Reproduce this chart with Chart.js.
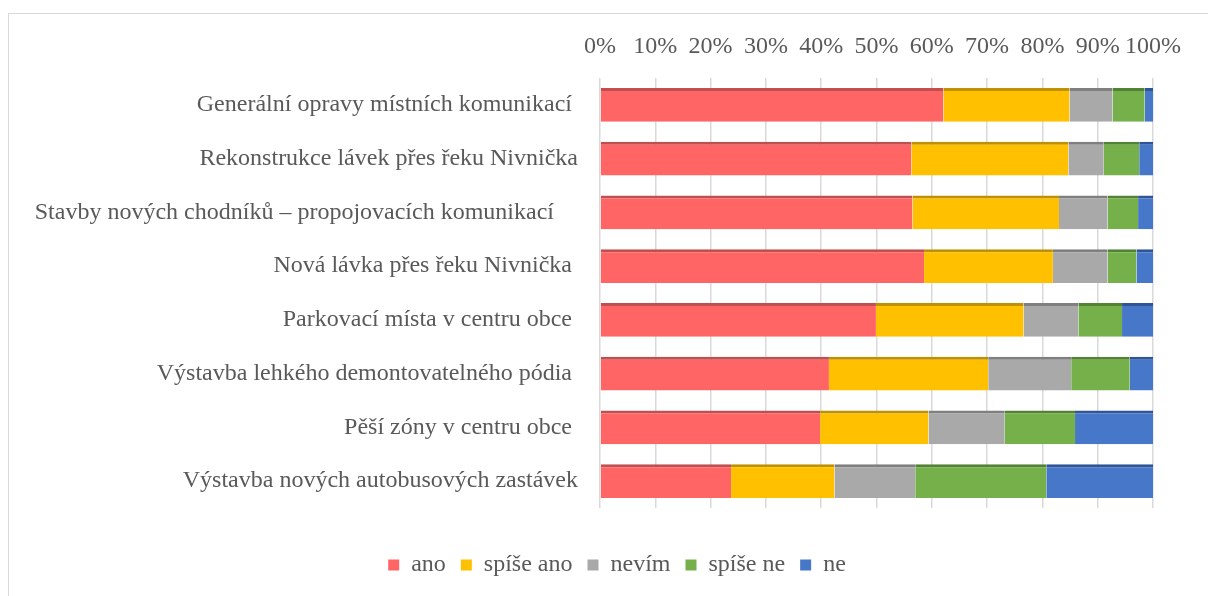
<!DOCTYPE html>
<html>
<head>
<meta charset="utf-8">
<script src="https://cdn.jsdelivr.net/npm/chart.js@4.4.0/dist/chart.umd.min.js"></script>
<style>
body{margin:0;background:#fff;}
</style>
</head>
<body>
<canvas id="bars" width="1208" height="596"></canvas>
<script>
// categories (trailing spaces as in the original labels)
var categories = [
  'Generální opravy místních komunikací ',
  'Rekonstrukce lávek přes řeku Nivnička',
  'Stavby nových chodníků – propojovacích komunikací    ',
  'Nová lávka přes řeku Nivnička ',
  'Parkovací místa v centru obce ',
  'Výstavba lehkého demontovatelného pódia ',
  'Pěší zóny v centru obce ',
  'Výstavba nových autobusových zastávek'
];
var seriesNames = ['ano', 'spíše ano', 'nevím', 'spíše ne', 'ne'];
// shares in %
var ano      = [62.1, 56.3, 56.5, 58.6, 49.9, 41.4, 39.8, 23.7];
var spiseAno = [22.8, 28.4, 26.5, 23.3, 26.7, 28.8, 19.6, 18.7];
var nevim    = [ 7.8,  6.4,  8.8,  9.9,  9.9, 15.0, 13.8, 14.6];
var spiseNe  = [ 5.8,  6.4,  5.5,  5.2,  7.9, 10.6, 12.7, 23.7];
var ne       = [ 1.5,  2.5,  2.7,  3.0,  5.6,  4.2, 14.1, 19.3];
var tickLabels = ['0%','10%','20%','30%','40%','50%','60%','70%','80%','90%','100%'];

var fills = ['#FF6565', '#FFC000', '#A9A9A9', '#75B04B', '#4777C9'];
var edges = ['#C04F4F', '#BF9000', '#7F7F7F', '#548235', '#2F5597'];
var textCol = '#595959';
var padLeft = 10;
var padRight = -16;

Chart.defaults.font.family = "'Liberation Serif', 'Times New Roman', serif";
Chart.defaults.font.size = 24;
Chart.defaults.color = textCol;

function makeSet(i, values) {
  return {
    label: seriesNames[i],
    data: values,
    xAxisID: 'x',
    yAxisID: 'y',
    backgroundColor: fills[i],
    borderColor: edges[i],
    borderWidth: {top: 3, right: 0, bottom: 0, left: 0},
    borderSkipped: false,
    barPercentage: 0.632,
    categoryPercentage: 1
  };
}

var frame = {
  id: 'frame',
  beforeDraw: function(chart) {
    var c = chart.ctx;
    c.save();
    c.fillStyle = '#fff';
    c.fillRect(0, 0, chart.width, chart.height);
    c.strokeStyle = '#d9d9d9';
    c.lineWidth = 1;
    c.strokeRect(8.5, 13.5, 1400, 800);
    c.restore();
  }
};

new Chart(document.getElementById('bars'), {
  type: 'bar',
  data: {
    labels: categories,
    datasets: [
      makeSet(0, ano),
      makeSet(1, spiseAno),
      makeSet(2, nevim),
      makeSet(3, spiseNe),
      makeSet(4, ne)
    ]
  },
  options: {
    indexAxis: 'y',
    responsive: false,
    devicePixelRatio: 1,
    animation: false,
    layout: {padding: {left: padLeft, right: padRight, top: 30, bottom: 9}},
    scales: {
      y: {
        stacked: true,
        ticks: {padding: 22, autoSkip: false},
        grid: {display: false, drawTicks: false},
        border: {display: false},
        afterFit: function(s) { s.width = 600 - padLeft; }
      },
      x: {
        type: 'linear',
        position: 'top',
        stacked: true,
        min: 0,
        max: 100,
        ticks: {
          stepSize: 10,
          padding: 17,
          maxRotation: 0,
          autoSkip: false,
          callback: function(v, i) { return tickLabels[i]; }
        },
        grid: {color: '#d9d9d9', lineWidth: 1.5, drawTicks: false},
        border: {display: false},
        afterFit: function(s) { s.height = 48; }
      },
      gap: {
        type: 'linear',
        axis: 'x',
        position: 'bottom',
        ticks: {display: false},
        grid: {display: false},
        border: {display: false},
        afterFit: function(s) { s.height = 30; }
      },
      side: {
        type: 'linear',
        axis: 'y',
        position: 'right',
        ticks: {display: false},
        grid: {display: false},
        border: {display: false},
        afterFit: function(s) { s.width = 1208 - padRight - 1153; }
      }
    },
    plugins: {
      tooltip: {enabled: false},
      legend: {
        position: 'bottom',
        labels: {
          boxWidth: 11,
          boxHeight: 11,
          padding: 15,
          color: textCol,
          font: {size: 24},
          generateLabels: function(chart) {
            var items = Chart.defaults.plugins.legend.labels.generateLabels(chart);
            items.forEach(function(it) {
              it.lineWidth = 0;
              it.strokeStyle = it.fillStyle;
            });
            return items;
          }
        }
      }
    }
  },
  plugins: [frame]
});
</script>
</body>
</html>
